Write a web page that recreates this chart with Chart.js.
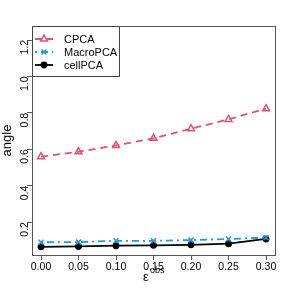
<!DOCTYPE html>
<html>
<head>
<meta charset="utf-8">
<script src="https://cdn.jsdelivr.net/npm/chart.js@4/dist/chart.umd.min.js"></script>
<style>
  html, body { margin: 0; padding: 0; background: #fff; }
  #wrap { width: 288px; height: 288px; }
</style>
</head>
<body>
<div id="wrap"><canvas id="chart" width="288" height="288"></canvas></div>
<script>
// Data
const eps = [0.00, 0.05, 0.10, 0.15, 0.20, 0.25, 0.30];
const cpca = [0.559, 0.586, 0.621, 0.660, 0.713, 0.764, 0.823];
const macroPca = [0.089, 0.090, 0.097, 0.097, 0.101, 0.107, 0.114];
const cellPca = [0.064, 0.066, 0.070, 0.072, 0.075, 0.081, 0.107];
const xTicks = [0.00, 0.05, 0.10, 0.15, 0.20, 0.25, 0.30];
const yTicks = [0.2, 0.4, 0.6, 0.8, 1.0, 1.2];

const FONT = 'Liberation Sans, Arial, sans-serif';

const toPoints = ys => eps.map((x, i) => ({ x: x, y: ys[i] }));

// Legend box drawn inside the plot, top-left, like R's legend()
const boxLegend = {
    id: 'boxLegend',
    afterDraw(chart) {
        const ctx = chart.ctx;
        const area = chart.chartArea;
        const x0 = area.left, y0 = area.top;
        const w = 88, h = 51;
        ctx.save();
        ctx.fillStyle = '#fff';
        ctx.fillRect(x0, y0, w, h);
        ctx.strokeStyle = '#444';
        ctx.lineWidth = 1;
        ctx.strokeRect(x0 + 0.5, y0 + 0.5, w - 1, h - 1);
        chart.data.datasets.forEach((ds, i) => {
            const cy = y0 + 13 + i * 13;
            ctx.strokeStyle = ds.borderColor;
            ctx.lineWidth = ds.borderWidth;
            ctx.setLineDash(ds.borderDash || []);
            ctx.beginPath();
            ctx.moveTo(x0 + 3, cy);
            ctx.lineTo(x0 + 21, cy);
            ctx.stroke();
            ctx.setLineDash([]);
            ctx.fillStyle = ds.pointBackgroundColor;
            ctx.strokeStyle = ds.pointBorderColor;
            ctx.lineWidth = ds.pointBorderWidth;
            Chart.helpers.drawPoint(ctx, {
                pointStyle: ds.pointStyle,
                radius: ds.pointRadius,
                borderWidth: ds.pointBorderWidth
            }, x0 + 12, cy);
            ctx.fillStyle = '#000';
            ctx.font = '11px ' + FONT;
            ctx.textBaseline = 'middle';
            ctx.fillText(ds.label, x0 + 32, cy + 1);
        });
        ctx.restore();
    }
};

// Frame around the plot region and the epsilon^obs axis title
const frameAndTitle = {
    id: 'frameAndTitle',
    afterDraw(chart) {
        const ctx = chart.ctx;
        const a = chart.chartArea;
        ctx.save();
        ctx.strokeStyle = '#555';
        ctx.lineWidth = 1;
        ctx.strokeRect(a.left + 0.5, a.top + 0.5, a.right - a.left, a.bottom - a.top);
        ctx.fillStyle = '#000';
        ctx.textBaseline = 'alphabetic';
        ctx.font = '13px ' + FONT;
        ctx.fillText('\u03b5', 143, 281);
        ctx.font = '9px ' + FONT;
        ctx.fillText('obs', 150, 273);
        ctx.restore();
    }
};

function series(label, data, color, dash, style, radius, fill) {
    return {
        label: label,
        data: toPoints(data),
        borderColor: color,
        backgroundColor: fill ? color : 'rgba(0,0,0,0)',
        borderWidth: 1.8,
        borderDash: dash,
        pointStyle: style,
        pointRadius: radius,
        pointBorderWidth: 1.5,
        pointBackgroundColor: fill ? color : 'rgba(0,0,0,0)',
        pointBorderColor: color,
        tension: 0
    };
}

const ctx = document.getElementById('chart').getContext('2d');
const chart = new Chart(ctx, {
    type: 'line',
    data: {
        datasets: [
            series('CPCA', cpca, '#DF536B', [7, 5], 'triangle', 4, false),
            series('MacroPCA', macroPca, '#2297E6', [2, 4, 7, 4], 'crossRot', 3.5, false),
            series('cellPCA', cellPca, '#000000', [], 'circle', 2.7, true)
        ]
    },
    options: {
        responsive: false,
        animation: false,
        layout: { padding: { left: 0, top: 26, right: 13, bottom: 0 } },
        plugins: {
            legend: { display: false },
            tooltip: { enabled: false }
        },
        scales: {
            x: {
                type: 'linear',
                min: -0.012,
                max: 0.312,
                afterBuildTicks: s => { s.ticks = xTicks.map(v => ({ value: v })); },
                afterFit: s => { s.height = 33; },
                border: { display: false },
                grid: { drawOnChartArea: false, drawTicks: true, tickLength: 5, color: '#555' },
                ticks: {
                    color: '#000',
                    font: { family: FONT, size: 10.5 },
                    padding: 1,
                    maxRotation: 0,
                    autoSkip: false,
                    callback: v => v.toFixed(2)
                }
            },
            y: {
                min: 0.019,
                max: 1.277,
                afterBuildTicks: s => { s.ticks = yTicks.map(v => ({ value: v })); },
                afterFit: s => { s.width = 32; },
                border: { display: false },
                grid: { drawOnChartArea: false, drawTicks: true, tickLength: 5, color: '#555' },
                title: {
                    display: true,
                    text: 'angle',
                    color: '#000',
                    font: { family: FONT, size: 13 },
                    padding: 0
                },
                ticks: {
                    color: '#000',
                    font: { family: FONT, size: 10.5 },
                    padding: 2,
                    minRotation: 90,
                    maxRotation: 90,
                    autoSkip: false,
                    callback: v => v.toFixed(1)
                }
            }
        }
    },
    plugins: [frameAndTitle, boxLegend]
});
</script>
</body>
</html>
